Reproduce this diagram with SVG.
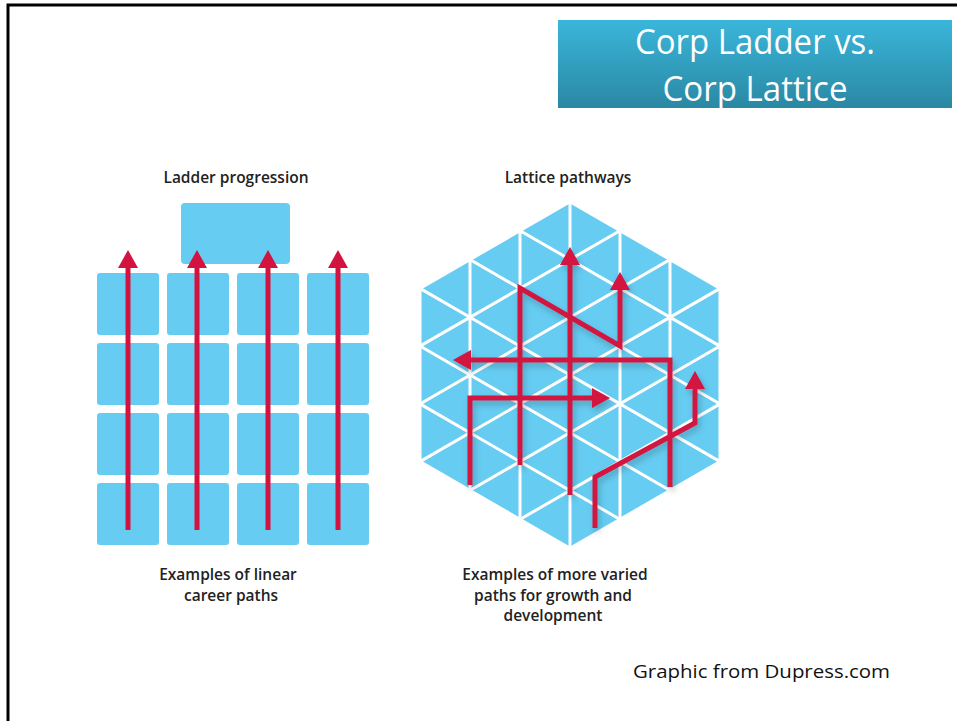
<svg xmlns="http://www.w3.org/2000/svg" width="957" height="721" viewBox="0 0 957 721">
<style>
.cell{fill:#66ccf1}
.red{fill:none;stroke:#d3133f;stroke-width:5;stroke-linejoin:miter;stroke-linecap:butt;marker-end:url(#ah)}
.lbl{font-family:"Open Sans","Liberation Sans",sans-serif;font-weight:600;font-size:15.5px;fill:#222;text-anchor:middle}
.title{font-family:"Open Sans","Liberation Sans",sans-serif;font-size:34px;fill:#fff;text-anchor:middle}
.grid{stroke:#fff;stroke-width:3;fill:none}
</style>
<defs>
<linearGradient id="tg" x1="0" y1="0" x2="0" y2="1">
<stop offset="0" stop-color="#3ab6db"/>
<stop offset="1" stop-color="#2a88a3"/>
</linearGradient>
<marker id="ah" markerUnits="userSpaceOnUse" markerWidth="18" markerHeight="20" refX="0" refY="10" orient="auto" viewBox="0 0 18 20">
<path d="M0,0 L18,10 L0,20 Z" fill="#d3133f"/>
</marker>
<clipPath id="hexclip">
<polygon points="570,201.8 720,288.4 720,461.6 570,548.2 420,461.6 420,288.4"/>
</clipPath>
<filter id="sh" x="-20%" y="-20%" width="140%" height="140%">
<feDropShadow dx="2" dy="4" stdDeviation="3" flood-color="#000" flood-opacity="0.22"/>
</filter>
</defs>
<rect width="957" height="721" fill="#fff"/>
<path d="M8,721 V5 H957" fill="none" stroke="#000" stroke-width="3"/>

<g id="title">
<rect x="558" y="20" width="394" height="88" fill="url(#tg)"/>
<text class="title" x="755" y="54" textLength="240" lengthAdjust="spacingAndGlyphs">Corp Ladder vs.</text>
<text class="title" x="755" y="101" textLength="185" lengthAdjust="spacingAndGlyphs">Corp Lattice</text>
</g>

<g id="ladder-label"><text class="lbl" x="236" y="183">Ladder progression</text></g>
<g id="lattice-label"><text class="lbl" x="568" y="183">Lattice pathways</text></g>

<g id="ladder">
<rect id="ladder-top" class="cell" x="181" y="203" width="109" height="61" rx="4"/>
<g id="ladder-cells">
<rect class="cell" x="97" y="273" width="62" height="62" rx="3"/>
<rect class="cell" x="167" y="273" width="62" height="62" rx="3"/>
<rect class="cell" x="237" y="273" width="62" height="62" rx="3"/>
<rect class="cell" x="307" y="273" width="62" height="62" rx="3"/>
<rect class="cell" x="97" y="343" width="62" height="62" rx="3"/>
<rect class="cell" x="167" y="343" width="62" height="62" rx="3"/>
<rect class="cell" x="237" y="343" width="62" height="62" rx="3"/>
<rect class="cell" x="307" y="343" width="62" height="62" rx="3"/>
<rect class="cell" x="97" y="413" width="62" height="62" rx="3"/>
<rect class="cell" x="167" y="413" width="62" height="62" rx="3"/>
<rect class="cell" x="237" y="413" width="62" height="62" rx="3"/>
<rect class="cell" x="307" y="413" width="62" height="62" rx="3"/>
<rect class="cell" x="97" y="483" width="62" height="62" rx="3"/>
<rect class="cell" x="167" y="483" width="62" height="62" rx="3"/>
<rect class="cell" x="237" y="483" width="62" height="62" rx="3"/>
<rect class="cell" x="307" y="483" width="62" height="62" rx="3"/>
</g>
</g>

<g id="lattice">
<polygon class="cell" points="570,201.8 720,288.4 720,461.6 570,548.2 420,461.6 420,288.4"/>
<g clip-path="url(#hexclip)" class="grid">
<path d="M470,150 V600 M520,150 V600 M570,150 V600 M620,150 V600 M670,150 V600"/>
<path d="M420,172.9 L720,346.1 M420,230.7 L720,403.9 M420,288.4 L720,461.6 M420,346.1 L720,519.3 M420,403.9 L720,577.1"/>
<path d="M420,346.1 L720,173 M420,403.9 L720,230.7 M420,461.6 L720,288.4 M420,519.3 L720,346.1 M420,577.1 L720,403.9"/>
</g>
<polygon points="570,201.8 720,288.4 720,461.6 570,548.2 420,461.6 420,288.4" fill="none" stroke="#fff" stroke-width="3" stroke-linejoin="round"/>
</g>

<g id="connectors">
<g id="ladder-paths">
<path class="red" d="M128,530 V268"/>
<path class="red" d="M197,530 V268"/>
<path class="red" d="M268,530 V268"/>
<path class="red" d="M338,530 V268"/>
</g>
<g id="lattice-paths" filter="url(#sh)">
<path class="red" d="M570,495 V265"/>
<path class="red" d="M520,465 V288 L620,346 V290"/>
<path class="red" d="M670,487 V360 H471"/>
<path class="red" d="M470,485 V398 H592"/>
<path class="red" d="M595,528 V477 L695,423 V389"/>
</g>
</g>

<g id="ladder-caption">
<text class="lbl" x="228" y="580">Examples of linear</text>
<text class="lbl" x="231" y="601">career paths</text>
</g>
<g id="lattice-caption">
<text class="lbl" x="555" y="580">Examples of more varied</text>
<text class="lbl" x="553" y="601">paths for growth and</text>
<text class="lbl" x="553" y="621">development</text>
</g>

<g id="credit">
<text x="633" y="678" font-family="'Open Sans','Liberation Sans',sans-serif" font-size="19" fill="#111" textLength="257" lengthAdjust="spacingAndGlyphs">Graphic from Dupress.com</text>
</g>
</svg>
